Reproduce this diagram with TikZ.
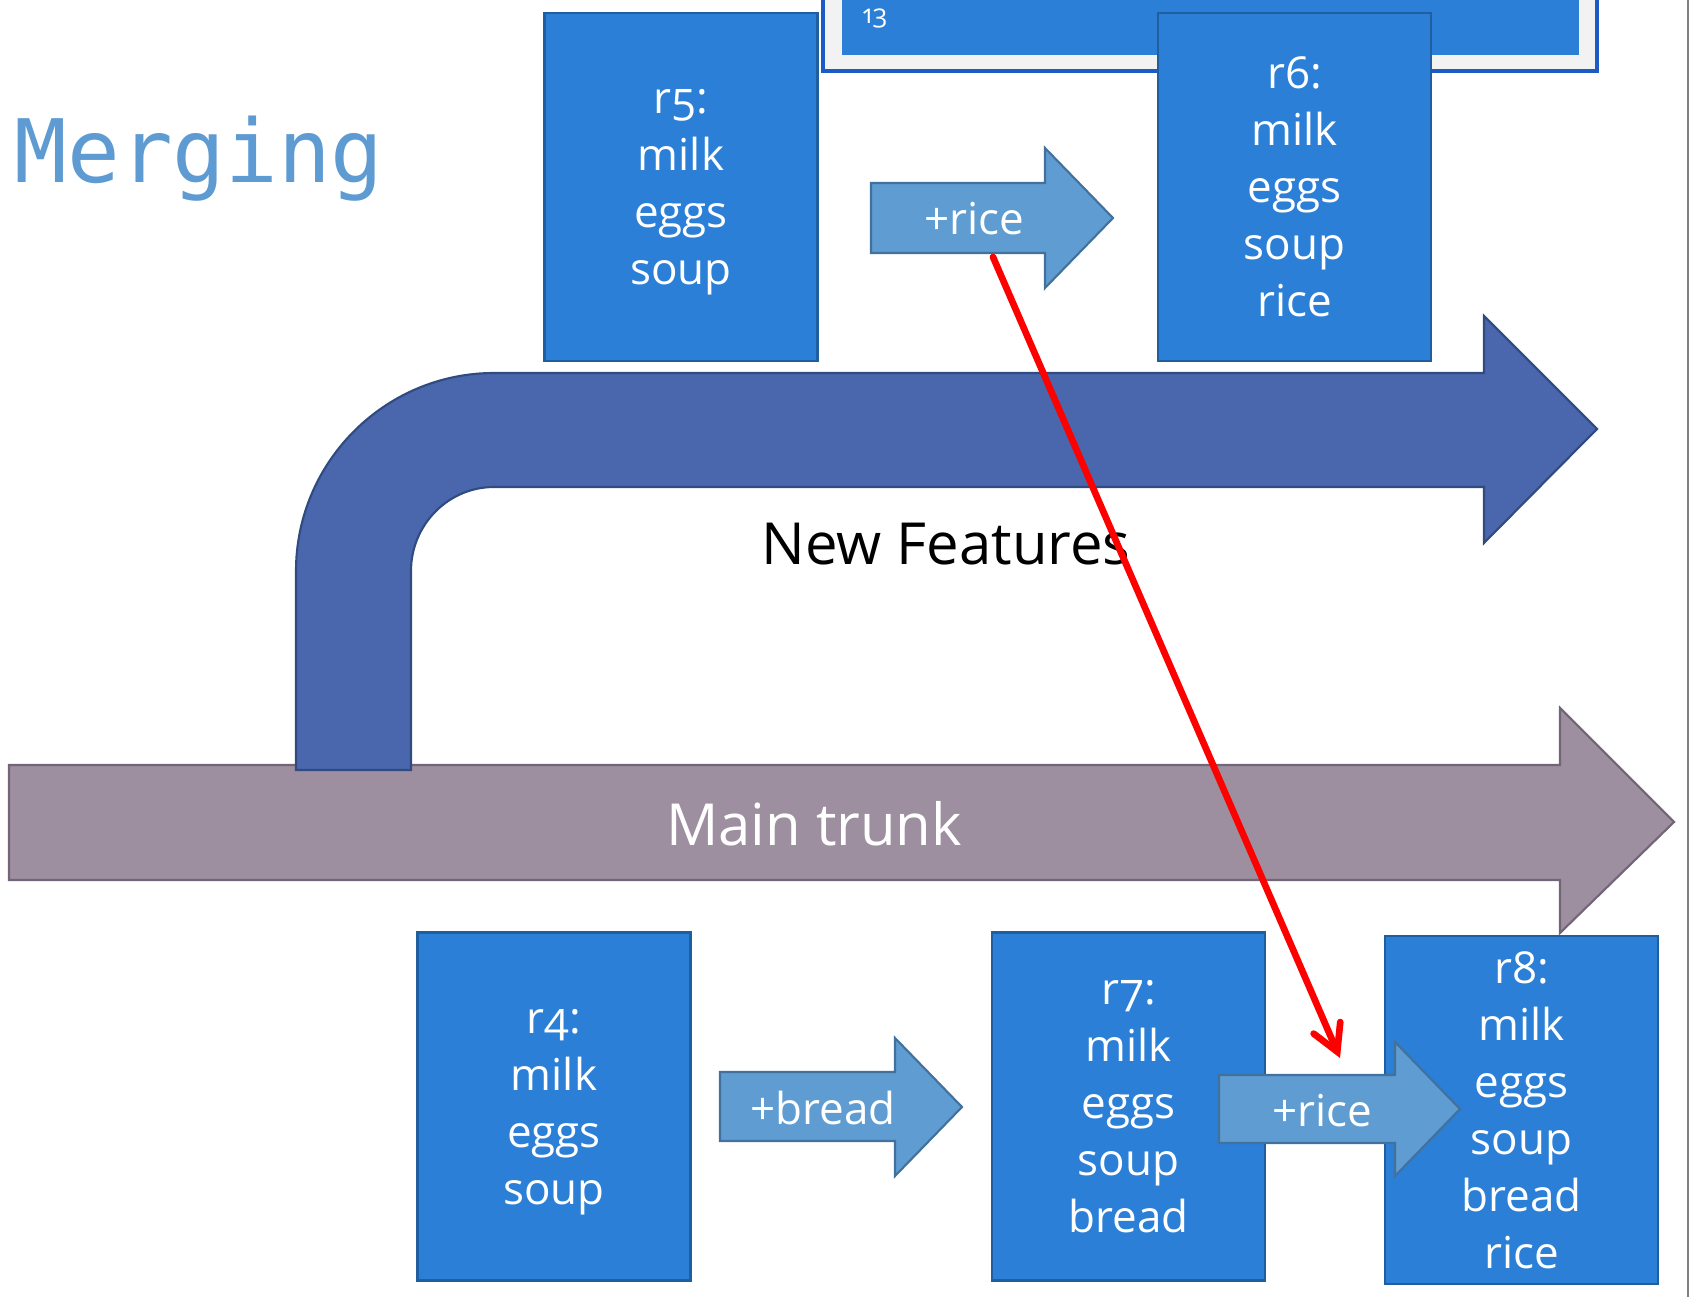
\documentclass[tikz,border=0pt]{standalone}
\usepackage{fontspec}
\setmainfont{Open Sans}[Numbers=OldStyle]
\newfontfamily\codefont{DejaVu Sans Mono}
\usetikzlibrary{arrows.meta}

\definecolor{revblue}{HTML}{2B7FD7}
\definecolor{revedge}{HTML}{1F5F9F}
\definecolor{changefill}{HTML}{5F9CD1}
\definecolor{changeedge}{HTML}{41719C}
\definecolor{featfill}{HTML}{4A66AC}
\definecolor{featedge}{HTML}{2F4B80}
\definecolor{trunkfill}{HTML}{9D8FA0}
\definecolor{trunkedge}{HTML}{716577}
\definecolor{titleblue}{HTML}{5E9BD2}
\definecolor{frameedge}{HTML}{1C5BC6}
\definecolor{framefill}{HTML}{F2F2F2}

\tikzset{
  rev/.style={draw=revedge, fill=revblue, line width=0.7pt, text=white,
    minimum width=2.73cm, minimum height=3.48cm, inner sep=0pt, align=center,
    text depth=-2.7pt,
    font=\fontsize{12.5}{16.2}\selectfont},
  change/.style={draw=changeedge, fill=changefill, line width=0.6pt},
  changelabel/.style={text=white, inner sep=1pt, font=\fontsize{12.5}{15}\selectfont},
  branch/.style={draw=featedge, fill=featfill, line width=0.6pt},
  trunk/.style={draw=trunkedge, fill=trunkfill, line width=0.6pt},
  biglabel/.style={inner sep=1pt, font=\fontsize{16.5}{20}\selectfont},
  mergeline/.style={red, line width=1.9pt, line cap=round,
    -{Straight Barb[length=2.6mm,width=2.9mm,line cap=round]}},
}

\begin{document}
\begin{tikzpicture}[x=0.01cm,y=-0.01cm]
\path[use as bounding box] (0,0) rectangle (1690,1297);
\clip (0,0) rectangle (1690,1297);

% slide title
\node[anchor=base west, inner sep=0pt, text=titleblue, font=\codefont\fontsize{24.9}{28}\selectfont] (title) at (14,183) {Merging};

% screen behind r6
\draw[draw=frameedge, fill=framefill, line width=0.9pt] (823,-20) rectangle (1597,71);
\fill[revblue] (842,-20) rectangle (1579,55);
\node[text=white, inner sep=0pt, font=\fontsize{7.5}{9}\selectfont] (slideno) at (875,18) {13};

% feature branch
\node[rev] (r5) at (681,187) {r5:\\milk\\eggs\\soup};
\draw[change] (871,183) -- ++(174,0) -- ++(0,-35) -- ++(68,70) -- ++(-68,70) -- ++(0,-35) -- ++(-174,0) -- cycle;
\node[changelabel] (riceA) at (974,219) {+rice};
\node[rev] (r6) at (1294.5,187) {r6:\\milk\\eggs\\soup\\rice};

% the two lines of development
\draw[trunk] (9,765) -- (1560,765) -- (1560,708) -- (1674,822) -- (1560,933) -- (1560,880) -- (9,880) -- cycle;
\node[biglabel, text=white] (trunklabel) at (814,824) {Main trunk};
\draw[branch] (296,770) -- (296,571) .. controls (296,462) and (385,373) .. (494,373)
  -- (1484,373) -- (1484,316) -- (1597,429) -- (1484,543) -- (1484,487) -- (494,487)
  .. controls (448,487) and (411,525) .. (411,571) -- (411,770) -- cycle;
\node[biglabel, text=black] (featlabel) at (946,544) {New Features};

% trunk
\node[rev] (r4) at (554,1106.5) {r4:\\milk\\eggs\\soup};
\draw[change] (720,1072) -- ++(175,0) -- ++(0,-34) -- ++(67,69) -- ++(-67,69) -- ++(0,-35) -- ++(-175,0) -- cycle;
\node[changelabel] (bread) at (823,1108) {+bread};
\node[rev] (r7) at (1128.5,1106.5) {r7:\\milk\\eggs\\soup\\bread};
\node[rev] (r8) at (1521.5,1110) {r8:\\milk\\eggs\\soup\\bread\\rice};
\draw[change] (1219,1075) -- ++(176,0) -- ++(0,-33) -- ++(65,67) -- ++(-65,67) -- ++(0,-33) -- ++(-176,0) -- cycle;
\node[changelabel] (riceB) at (1322,1111) {+rice};

% merge
\coordinate (mergefrom) at (993,257);
\coordinate (mergeto) at (1340,1058);
\draw[mergeline] (mergefrom) -- (mergeto);

\draw[gray, line width=0.4pt] (1688,0) -- (1688,1297);
\end{tikzpicture}
\end{document}
